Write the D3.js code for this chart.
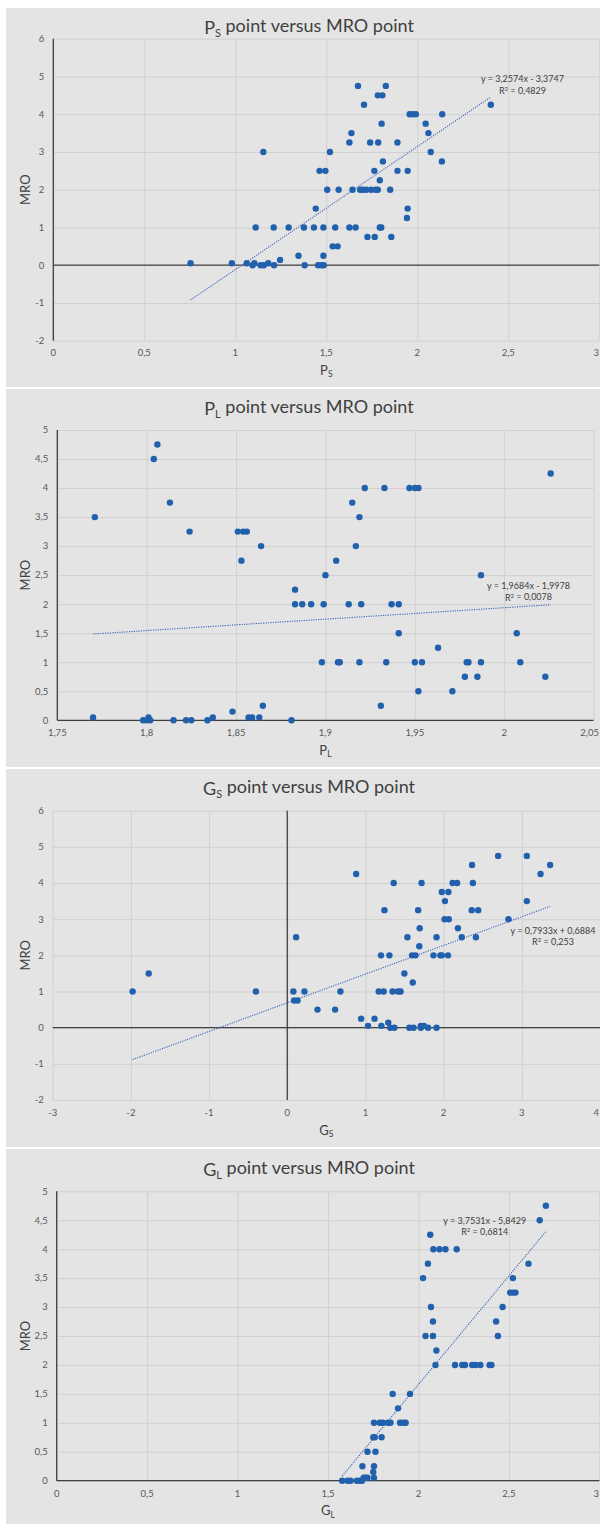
<!DOCTYPE html>
<html>
<head>
<meta charset="utf-8">
<script src="https://cdn.jsdelivr.net/npm/d3@7"></script>
<style>
  html, body { margin: 0; padding: 0; background: #ffffff; }
  svg { display: block; font-family: Lato, "Open Sans", sans-serif; }
</style>
</head>
<body>
<svg id="chart" width="600" height="1524"></svg>
<script>
// ---- P_S versus MRO ----
const psX = [1.674, 1.827, 1.783, 1.808, 1.707, 2.404, 1.958, 1.975, 1.992, 2.137,
  1.804, 2.046, 1.638, 2.061, 1.627, 1.741, 1.785, 1.891, 1.154, 1.52, 2.074,
  1.811, 2.135, 1.463, 1.495, 1.764, 1.891, 1.947, 1.794,
  1.505, 1.568, 1.644, 1.686, 1.701, 1.72, 1.747, 1.772, 1.783, 1.851,
  1.442, 1.947, 1.943,
  1.112, 1.211, 1.293, 1.377, 1.432, 1.484, 1.549, 1.627, 1.661, 1.794, 1.802,
  1.726, 1.766, 1.857, 1.535, 1.562, 1.347, 1.484, 1.246,
  0.754, 0.981, 1.063, 1.105, 1.181,
  1.095, 1.139, 1.156, 1.213, 1.381, 1.455, 1.474, 1.486];
const psY = [4.75, 4.75, 4.5, 4.5, 4.25, 4.25, 4, 4, 4, 4,
  3.75, 3.75, 3.5, 3.5, 3.25, 3.25, 3.25, 3.25, 3, 3, 3,
  2.75, 2.75, 2.5, 2.5, 2.5, 2.5, 2.5, 2.25,
  2, 2, 2, 2, 2, 2, 2, 2, 2, 2,
  1.5, 1.5, 1.25,
  1, 1, 1, 1, 1, 1, 1, 1, 1, 1, 1,
  0.75, 0.75, 0.75, 0.5, 0.5, 0.25, 0.25, 0.14,
  0.05, 0.05, 0.05, 0.05, 0.05,
  0, 0, 0, 0, 0, 0, 0, 0];
const psTicksX = [0, 0.5, 1, 1.5, 2, 2.5, 3];
const psTicksY = [-2, -1, 0, 1, 2, 3, 4, 5, 6];
const psFit = [3.2574, -3.3747, 0.4829]; // slope, intercept, R²

// ---- P_L versus MRO ----
const plX = [1.771, 1.770, 1.801, 1.837, 1.857, 1.859, 1.863,
  1.806, 1.804, 1.813, 1.915,
  1.824, 1.851, 1.854, 1.856, 1.853, 1.906, 1.864, 1.917, 1.883,
  1.883, 1.887, 1.892, 1.899, 1.913, 1.920, 1.937, 1.941,
  1.900, 1.987, 1.919,
  1.922, 1.933, 1.947, 1.950, 1.952, 2.026,
  1.941, 2.007, 1.963,
  1.898, 1.907, 1.908, 1.919, 1.934, 1.950, 1.954, 1.979, 1.980, 1.987, 2.009,
  1.978, 1.985, 2.023, 1.952, 1.971, 1.865, 1.931, 1.848,
  1.798, 1.800, 1.802, 1.815, 1.822, 1.825, 1.834, 1.881];
const plY = [3.5, 0.05, 0.05, 0.05, 0.05, 0.05, 0.05,
  4.75, 4.5, 3.75, 3.75,
  3.25, 3.25, 3.25, 3.25, 2.75, 2.75, 3, 3, 2.25,
  2, 2, 2, 2, 2, 2, 2, 2,
  2.5, 2.5, 3.5,
  4, 4, 4, 4, 4, 4.25,
  1.5, 1.5, 1.25,
  1, 1, 1, 1, 1, 1, 1, 1, 1, 1, 1,
  0.75, 0.75, 0.75, 0.5, 0.5, 0.25, 0.25, 0.15,
  0, 0, 0, 0, 0, 0, 0, 0];
const plTicksX = [1.75, 1.8, 1.85, 1.9, 1.95, 2, 2.05];
const plTicksY = [0, 0.5, 1, 1.5, 2, 2.5, 3, 3.5, 4, 4.5, 5];
const plFit = [1.9684, -1.9978, 0.0078];

// ---- G_S versus MRO ----
const gsX = [-1.978, -1.772, -0.401, 0.078, 0.22, 0.68, 0.088, 0.132, 0.113, 0.387,
  0.612, 0.881, 0.945, 1.033, 1.116, 1.17, 1.233, 1.199, 1.243, 1.204,
  1.292, 1.307, 1.317, 1.37, 1.346, 1.361, 1.415, 1.449, 1.498, 1.537,
  1.561, 1.615, 1.605, 1.596, 1.64, 1.674, 1.694, 1.689, 1.718, 1.708,
  1.708, 1.747, 1.801, 1.87, 1.909, 1.909, 1.958, 1.977, 2.056, 1.977,
  2.061, 2.017, 2.012, 2.066, 2.115, 2.173, 2.183, 2.232, 2.364, 2.374,
  2.359, 2.442, 2.413, 2.697, 2.829, 3.064, 3.064, 3.24, 3.362];
const gsY = [1, 1.5, 1, 1, 1, 1, 0.75, 0.75, 2.5, 0.5,
  0.5, 4.25, 0.25, 0.05, 0.25, 1, 1, 2, 3.25, 0.05,
  0.14, 2, 0, 0, 1, 4, 1, 1, 1.5, 2.5,
  0, 0, 1.25, 2, 2, 3.25, 2.75, 2.25, 4, 0.05,
  0, 0.05, 0, 2, 2.5, 0, 2, 2, 2, 3.75,
  3.75, 3.5, 3, 3, 4, 4, 2.75, 2.5, 4.5, 4,
  3.25, 3.25, 2.5, 4.75, 3, 4.75, 3.5, 4.25, 4.5];
const gsTicksX = [-3, -2, -1, 0, 1, 2, 3, 4];
const gsTicksY = [-2, -1, 0, 1, 2, 3, 4, 5, 6];
const gsFit = [0.7933, 0.6884, 0.253];

// ---- G_L versus MRO ----
const glX = [1.578, 1.608, 1.625, 1.659, 1.675, 1.688,
  1.697, 1.707, 1.718, 1.754, 1.75, 1.69, 1.754, 1.718, 1.762,
  1.75, 1.758, 1.796,
  1.754, 1.786, 1.802, 1.83, 1.845, 1.898, 1.915, 1.929,
  1.887, 1.857, 1.953,
  2.094, 2.202, 2.242, 2.257, 2.297, 2.316, 2.342, 2.393, 2.403,
  2.099, 2.039, 2.08, 2.439, 2.08, 2.429, 2.069, 2.465,
  2.507, 2.522, 2.536, 2.025, 2.522, 2.052, 2.608,
  2.082, 2.116, 2.149, 2.211, 2.065, 2.67, 2.704];
const glY = [0, 0, 0, 0, 0, 0,
  0.05, 0.05, 0.05, 0.05, 0.15, 0.25, 0.25, 0.5, 0.5,
  0.75, 0.75, 0.75,
  1, 1, 1, 1, 1, 1, 1, 1,
  1.25, 1.5, 1.5,
  2, 2, 2, 2, 2, 2, 2, 2, 2,
  2.25, 2.5, 2.5, 2.5, 2.75, 2.75, 3, 3,
  3.25, 3.25, 3.25, 3.5, 3.5, 3.75, 3.75,
  4, 4, 4, 4, 4.25, 4.5, 4.75];
const glTicksX = [0, 0.5, 1, 1.5, 2, 2.5, 3];
const glTicksY = [0, 0.5, 1, 1.5, 2, 2.5, 3, 3.5, 4, 4.5, 5];
const glFit = [3.7531, -5.8429, 0.6814];

// Decimal comma number formatting
const locale = d3.formatLocale({ decimal: ",", thousands: ".", grouping: [3], currency: ["", ""] });
const fmtTick = locale.format("~r");
const fmt4 = locale.format(".4f");
const fmtR2 = v => locale.format("~r")(v);

const svg = d3.select("#chart");
const BG = "#e4e4e4", GRID = "#d0d0d0", AXIS = "#404040", DOT = "#2160ad", TREND = "#3b66bb";
const WIDTH = 600;

function drawPanel(p) {
  const g = svg.append("g");
  g.append("rect").attr("x", 6).attr("y", p.top).attr("width", 594)
    .attr("height", p.bottom - p.top).attr("fill", BG);

  const x = d3.scaleLinear().domain(d3.extent(p.ticksX)).range(p.xr);
  const y = d3.scaleLinear().domain(d3.extent(p.ticksY)).range(p.yr);

  // gridlines
  g.append("g").call(d3.axisLeft(y).tickValues(p.ticksY).tickSize(-(p.xr[1] - p.xr[0])).tickFormat(""))
    .attr("transform", `translate(${p.xr[0]},0)`)
    .call(s => s.select(".domain").remove())
    .call(s => s.selectAll("line").attr("stroke", GRID).attr("stroke-width", 1));
  g.append("g").call(d3.axisBottom(x).tickValues(p.ticksX).tickSize(-(p.yr[0] - p.yr[1])).tickFormat(""))
    .attr("transform", `translate(0,${p.yr[0]})`)
    .call(s => s.select(".domain").remove())
    .call(s => s.selectAll("line").attr("stroke", GRID).attr("stroke-width", 1));

  // dark axis lines crossing at zero
  const xd = x.domain();
  const cross = (xd[0] <= 0 && xd[1] >= 0) ? 0 : xd[0];
  g.append("line").attr("x1", x(cross)).attr("x2", x(cross))
    .attr("y1", p.yr[0]).attr("y2", p.yr[1]).attr("stroke", AXIS).attr("stroke-width", 1.3);
  g.append("line").attr("x1", p.xr[0]).attr("x2", p.xr[1])
    .attr("y1", y(0)).attr("y2", y(0)).attr("stroke", AXIS).attr("stroke-width", 1.3);

  // tick labels
  g.append("g").selectAll("text").data(p.ticksY).join("text")
    .attr("x", p.xr[0] - 9).attr("y", d => y(d)).attr("dy", "0.35em")
    .attr("text-anchor", "end").attr("font-size", 9.5).attr("fill", "#595959")
    .text(d => fmtTick(d).replace("−", "-"));
  g.append("g").selectAll("text").data(p.ticksX).join("text")
    .attr("x", d => x(d)).attr("y", p.tickLabelY).attr("dy", "0.35em")
    .attr("text-anchor", "middle").attr("font-size", 9.5).attr("fill", "#595959")
    .text(d => fmtTick(d).replace("−", "-"))
    .each(function () {
      // keep the last label inside the page edge
      const bb = this.getBBox();
      if (bb.x + bb.width > WIDTH - 1) {
        d3.select(this).attr("text-anchor", "end").attr("x", WIDTH - 1);
      }
    });

  // trendline from fitted slope and intercept
  const [m, b, r2] = p.fit;
  const ex = d3.extent(p.xs);
  g.append("path")
    .attr("d", d3.line().x(d => x(d)).y(d => y(m * d + b))(ex))
    .attr("fill", "none").attr("stroke", TREND).attr("stroke-width", 1.1)
    .attr("stroke-dasharray", "1.2,1.2");

  // points
  g.append("g").selectAll("circle").data(p.xs.map((v, i) => [v, p.ys[i]])).join("circle")
    .attr("cx", d => x(d[0])).attr("cy", d => y(d[1])).attr("r", 3.2).attr("fill", DOT);

  // equation labels
  const eq = `y = ${fmt4(m)}x ${b < 0 ? "-" : "+"} ${fmt4(Math.abs(b))}`;
  g.append("text").attr("x", p.eq[0]).attr("y", p.eq[1]).attr("dy", "0.35em")
    .attr("text-anchor", "middle").attr("font-size", 9).attr("fill", "#404040").text(eq);
  const r2t = g.append("text").attr("x", p.eq[0]).attr("y", p.eq[1] + 11.5).attr("dy", "0.35em")
    .attr("text-anchor", "middle").attr("font-size", 9).attr("fill", "#404040");
  r2t.append("tspan").text("R");
  r2t.append("tspan").attr("font-size", 6).attr("dy", "-0.5em").text("2");
  r2t.append("tspan").attr("dy", "0.3em").text(" = " + fmtR2(r2));

  // title with subscript
  const t = g.append("text").attr("x", p.titleX).attr("y", p.titleY).attr("dy", "0.35em")
    .attr("text-anchor", "middle").attr("font-size", 18).attr("fill", "#404040");
  t.append("tspan").text(p.sym[0]);
  t.append("tspan").attr("font-size", 11).attr("dy", "0.3em").text(p.sym[1]);
  t.append("tspan").attr("dy", "-0.3em").text(" point versus MRO point");

  // axis titles
  const xt = g.append("text").attr("x", (p.xr[0] + p.xr[1]) / 2).attr("y", p.axisTitleY).attr("dy", "0.35em")
    .attr("text-anchor", "middle").attr("font-size", 13).attr("fill", "#404040");
  xt.append("tspan").text(p.sym[0]);
  xt.append("tspan").attr("font-size", 8.5).attr("dy", "0.3em").text(p.sym[1]);
  g.append("text").attr("transform", `translate(25,${(p.yr[0] + p.yr[1]) / 2}) rotate(-90)`)
    .attr("dy", "0.35em").attr("text-anchor", "middle").attr("font-size", 13).attr("fill", "#404040")
    .text("MRO");
}

drawPanel({ top: 8, bottom: 387, xr: [53.3, 599.3], yr: [340.7, 38.7],
  ticksX: psTicksX, ticksY: psTicksY, xs: psX, ys: psY, fit: psFit, sym: ["P", "S"],
  titleX: 309, titleY: 27.5, tickLabelY: 352.7, axisTitleY: 370, eq: [522.5, 79.3] });
drawPanel({ top: 389, bottom: 767, xr: [57.3, 593.6], yr: [720.3, 430],
  ticksX: plTicksX, ticksY: plTicksY, xs: plX, ys: plY, fit: plFit, sym: ["P", "L"],
  titleX: 309, titleY: 408.5, tickLabelY: 732.7, axisTitleY: 750, eq: [528.5, 586] });
drawPanel({ top: 769, bottom: 1147, xr: [52.7, 600], yr: [1100, 810.7],
  ticksX: gsTicksX, ticksY: gsTicksY, xs: gsX, ys: gsY, fit: gsFit, sym: ["G", "S"],
  titleX: 309, titleY: 788.5, tickLabelY: 1113, axisTitleY: 1130, eq: [553, 930.7] });
drawPanel({ top: 1149, bottom: 1524, xr: [56.7, 599.4], yr: [1480.7, 1191.3],
  ticksX: glTicksX, ticksY: glTicksY, xs: glX, ys: glY, fit: glFit, sym: ["G", "L"],
  titleX: 309, titleY: 1169.5, tickLabelY: 1494, axisTitleY: 1510.7, eq: [484.7, 1220.7] });
</script>
</body>
</html>
